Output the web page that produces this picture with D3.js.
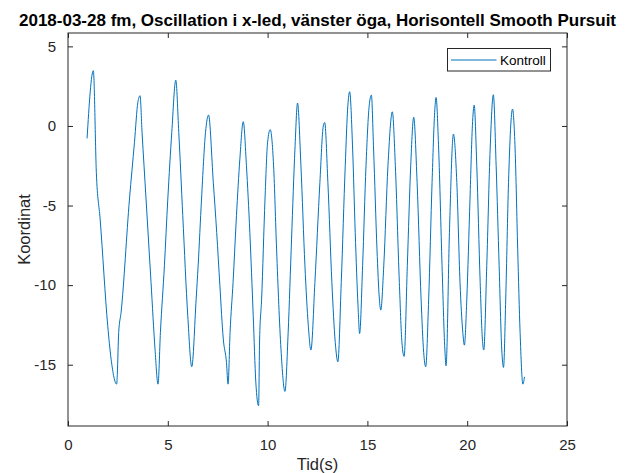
<!DOCTYPE html>
<html>
<head>
<meta charset="utf-8">
<script src="https://cdn.jsdelivr.net/npm/d3@7"></script>
<style>
  body { margin: 0; background: #fff; }
  svg { display: block; font-family: "Liberation Sans", Arial, sans-serif; }
</style>
</head>
<body>
<div id="chart"></div>
<script>
// values
var tid = [0.955, 1.27, 1.42, 1.61, 1.99, 2.16, 2.44, 2.47, 2.54, 2.66, 3.08, 3.33, 3.50, 3.61, 3.71, 3.91,
  4.16, 4.36, 4.51, 4.63, 4.83, 5.00, 5.20, 5.40, 5.55, 5.75, 6.00, 6.20, 6.42, 6.52, 6.69, 6.89, 7.04,
  7.28, 7.45, 7.61, 7.78, 7.94, 8.02, 8.12, 8.27, 8.44, 8.61, 8.78, 8.94, 9.11, 9.28, 9.41, 9.55, 9.60,
  9.70, 9.87, 10.00, 10.13, 10.30, 10.45, 10.67, 10.87, 11.03, 11.20, 11.37, 11.50, 11.67, 11.87, 12.04,
  12.17, 12.37, 12.62, 12.79, 12.86, 13.02, 13.22, 13.39, 13.52, 13.69, 13.89, 14.02, 14.11, 14.26, 14.39,
  14.53, 14.61, 14.76, 14.93, 15.09, 15.20, 15.31, 15.48, 15.60, 15.67, 15.82, 16.03, 16.25, 16.40, 16.60,
  16.73, 16.84, 17.00, 17.17, 17.32, 17.49, 17.69, 17.82, 17.92, 18.07, 18.24, 18.37, 18.44, 18.57, 18.74,
  18.88, 18.94, 19.11, 19.31, 19.48, 19.64, 19.78, 19.86, 19.98, 20.14, 20.26, 20.35, 20.48, 20.65, 20.76,
  20.83, 20.98, 21.15, 21.31, 21.45, 21.60, 21.73, 21.82, 21.93, 22.07, 22.27, 22.40, 22.53, 22.65, 22.79, 22.87];
var koordinat = [-0.78, 3.47, -2.92, -5.85, -12.55, -14.65, -16.22, -15.6, -12.97, -11.7, -4.59, -1.03, 1.48, 1.9, -0.4, -4.59,
  -9.83, -14.02, -16.22, -12.97, -8.78, -4.59, -0.40, 2.88, -0.4, -5.64, -11.92, -15.13, -10.88, -8.78, -4.59, -0.40, 0.69,
  -3.55, -6.69, -10.04, -13.39, -14.86, -16.22, -12.97, -9.83, -5.64, -2.08, 0.27, -2.5, -6.69, -11.92, -16.1, -17.58, -13.39,
  -10.88, -4.59, -1.03, -0.23, -2.5, -7.74, -14.02, -16.68, -12.97, -7.11, -1.45, 1.44, -2.5, -8.78, -12.55,
  -14.08, -9.83, -3.55, 0.0, 0.22, -3.55, -9.83, -13.6, -14.82, -9.83, -2.5, 1.27, 2.15, -1.45, -6.69,
  -11.3, -13.04, -8.78, -2.5, 1.27, 1.94, -1.45, -7.74, -10.88, -11.57, -8.78, -2.5, 0.89, -2.5, -9.83,
  -13.6, -14.48, -8.78, -2.5, 0.55, -3.55, -10.88, -14.23, -15.13, -10.88, -3.55, 0.85, 1.79, -1.45, -8.78,
  -14.02, -15.07, -6.69, -0.51, -3.55, -9.83, -12.97, -13.77, -10.88, -4.59, 0.01, 1.31, -2.5, -9.83, -13.39,
  -14.08, -8.78, -1.45, 1.96, -2.5, -8.78, -14.02, -15.17, -10.88, -3.55, 1.06, -1.45, -7.74, -12.97, -16.22, -15.76];
var xTicks = [0, 5, 10, 15, 20, 25];
var yTicks = [-15, -10, -5, 0, 5];
var titel = "2018-03-28 fm, Oscillation i x-led, vänster öga, Horisontell Smooth Pursuit";
var serieNamn = "Kontroll";

var W = 627, H = 473;
var margin = {top: 33, right: 60, bottom: 47, left: 68};
var w = W - margin.left - margin.right,
    h = H - margin.top - margin.bottom;
var axCol = "#262626", lineCol = "#0072BD";

var svg = d3.select("#chart").append("svg")
    .attr("width", W).attr("height", H);

var x = d3.scaleLinear().domain([0, 25]).range([0, w]);
var y = d3.scaleLinear().domain([-18.85, 5.84]).range([h, 0]);

var g = svg.append("g")
    .attr("transform", "translate(" + margin.left + "," + margin.top + ")");

// data line
var pts = tid.map(function(t, i) { return [t, koordinat[i]]; });
var line = d3.line()
    .x(function(d) { return x(d[0]); })
    .y(function(d) { return y(d[1]); })
    .curve(d3.curveMonotoneX);
g.append("path")
    .datum(pts)
    .attr("d", line)
    .attr("fill", "none")
    .attr("stroke", lineCol)
    .attr("stroke-width", 1);

// axes, ticks inward on all sides (matlab box), plain hyphen for minus
var fmt = function(d) { return String(d); };
function styleAxis(sel) {
  sel.select(".domain").remove();
  sel.selectAll(".tick line").attr("stroke", axCol);
  sel.selectAll(".tick text").attr("fill", axCol).style("font-size", "15px");
}
g.append("g").attr("transform", "translate(0," + h + ")")
    .call(d3.axisBottom(x).tickValues(xTicks).tickSize(-5).tickPadding(13).tickFormat(fmt))
    .call(styleAxis);
g.append("g")
    .call(d3.axisTop(x).tickValues(xTicks).tickSize(-5).tickFormat(""))
    .call(styleAxis);
g.append("g")
    .call(d3.axisLeft(y).tickValues(yTicks).tickSize(-5).tickPadding(12).tickFormat(fmt))
    .call(styleAxis);
g.append("g").attr("transform", "translate(" + w + ",0)")
    .call(d3.axisRight(y).tickValues(yTicks).tickSize(-5).tickFormat(""))
    .call(styleAxis);

g.append("rect")
    .attr("x", 0).attr("y", 0).attr("width", w).attr("height", h)
    .attr("fill", "none").attr("stroke", axCol).attr("stroke-width", 1);

// labels
svg.append("text")
    .attr("x", margin.left + w / 2).attr("y", 26)
    .attr("text-anchor", "middle")
    .style("font-size", "17px").style("font-weight", "bold")
    .attr("fill", "#000")
    .text(titel);
svg.append("text")
    .attr("x", margin.left + w / 2).attr("y", 470)
    .attr("text-anchor", "middle")
    .style("font-size", "16.5px").attr("fill", axCol)
    .text("Tid(s)");
svg.append("text")
    .attr("transform", "translate(30," + (margin.top + h / 2) + ") rotate(-90)")
    .attr("text-anchor", "middle")
    .style("font-size", "16.5px").attr("fill", axCol)
    .text("Koordinat");

// legend
var leg = svg.append("g").attr("transform", "translate(447.5,48.5)");
leg.append("rect")
    .attr("width", 103).attr("height", 22.5)
    .attr("fill", "#fff").attr("stroke", axCol).attr("stroke-width", 1);
leg.append("line")
    .attr("x1", 3.5).attr("x2", 49).attr("y1", 11.5).attr("y2", 11.5)
    .attr("stroke", lineCol).attr("stroke-width", 1);
leg.append("text")
    .attr("x", 52.5).attr("y", 16.5)
    .style("font-size", "13.5px").attr("fill", "#000")
    .text(serieNamn);
</script>
</body>
</html>
